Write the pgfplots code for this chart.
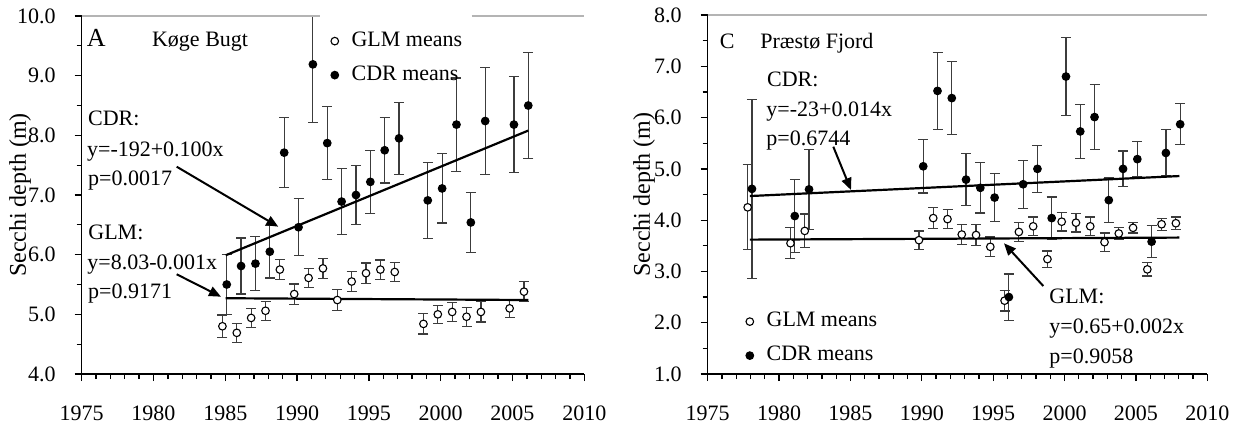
\documentclass[border=0pt]{standalone}
\usepackage{pgfplots}
\pgfplotsset{compat=1.18}
\usepackage{pgfplotstable}
\usepackage{fontspec}
\setmainfont{Liberation Serif}
\usetikzlibrary{arrows.meta}
\definecolor{errgray}{HTML}{3C3C3C}
\definecolor{topgray}{HTML}{B4B4B4}

\pgfplotstableread{
x y e
1984.8 4.80 0.19
1985.8 4.69 0.16
1986.8 4.94 0.16
1987.8 5.06 0.16
1988.8 5.75 0.17
1989.8 5.34 0.17
1990.8 5.61 0.16
1991.8 5.77 0.17
1992.8 5.24 0.17
1993.8 5.55 0.17
1994.8 5.69 0.17
1995.8 5.75 0.16
1996.8 5.71 0.16
1998.8 4.84 0.17
1999.8 5.00 0.15
2000.8 5.04 0.16
2001.8 4.96 0.16
2002.8 5.04 0.17
2004.8 5.10 0.15
2005.8 5.38 0.17
}\kogeGLM

\pgfplotstableread{
x y e
1985.1 5.50 0.50
1986.1 5.81 0.47
1987.1 5.85 0.45
1988.1 6.05 0.44
1989.1 7.71 0.59
1990.1 6.46 0.48
1991.1 9.19 0.98
1992.1 7.87 0.61
1993.1 6.89 0.55
1994.1 7.00 0.49
1995.1 7.22 0.53
1996.1 7.75 0.55
1997.1 7.95 0.60
1999.1 6.91 0.64
2000.1 7.11 0.58
2001.1 8.18 0.78
2002.1 6.54 0.50
2003.1 8.24 0.90
2005.1 8.18 0.80
2006.1 8.50 0.89
}\kogeCDR

\pgfplotstableread{
x y e
1977.8 4.25 0.83
1980.8 3.55 0.30
1981.8 3.79 0.33
1989.8 3.61 0.18
1990.8 4.04 0.21
1991.8 4.02 0.19
1992.8 3.72 0.20
1993.8 3.71 0.20
1994.8 3.48 0.19
1995.8 2.43 0.20
1996.8 3.77 0.18
1997.8 3.88 0.18
1998.8 3.24 0.16
1999.8 3.97 0.18
2000.8 3.95 0.18
2001.8 3.88 0.18
2002.8 3.57 0.18
2003.8 3.74 0.12
2004.8 3.85 0.10
2005.8 3.04 0.13
2006.8 3.92 0.12
2007.8 3.94 0.12
}\praestoGLM

\pgfplotstableread{
x y e
1978.1 4.61 1.74
1981.1 4.08 0.71
1982.1 4.60 0.78
1990.1 5.05 0.52
1991.1 6.52 0.75
1992.1 6.38 0.71
1993.1 4.79 0.51
1994.1 4.63 0.49
1995.1 4.44 0.47
1996.1 2.50 0.45
1997.1 4.70 0.47
1998.1 5.00 0.46
1999.1 4.04 0.41
2000.1 6.80 0.76
2001.1 5.73 0.53
2002.1 6.01 0.63
2003.1 4.39 0.43
2004.1 5.00 0.35
2005.1 5.19 0.34
2006.1 3.58 0.31
2007.1 5.31 0.45
2008.1 5.87 0.40
}\praestoCDR

\pgfplotsset{
  secchi/.style={
    scale only axis,
    anchor=south west,
    axis x line=bottom, axis y line=left,
    axis line style={-, line width=0.65pt, black},
    tick align=outside,
    tick style={black, line width=0.65pt},
    major tick length=3.5pt, minor tick length=2.5pt,
    xmin=1975, xmax=2010,
    xtick={1975,1980,...,2010},
    minor x tick num=4,
    minor y tick num=1,
    tick label style={font=\fontsize{11}{13}\selectfont},
    xticklabel style={/pgf/number format/1000 sep={}, /tikz/yshift=-9pt},
    yticklabel style={/pgf/number format/fixed, /pgf/number format/fixed zerofill,
      /pgf/number format/precision=1},
    yticklabel shift=6pt,
    /pgf/number format/assume math mode=true,
    ylabel={Secchi depth (m)},
    ylabel style={font=\fontsize{12}{14}\selectfont, anchor=center},
    legend style={draw=none, fill=none, inner sep=0pt, outer sep=0pt,
      anchor=north west, row sep=8pt,
      nodes={inner sep=0pt, text height=7pt, text depth=2pt, font=\fontsize{11}{13}\selectfont}},
    legend cell align=left,
    legend image code/.code={\draw[##1] plot coordinates {(0pt,0pt)}; \path (8.2pt,0pt);},
  },
  glm/.style={only marks, mark=*, mark size=1.9pt,
    mark options={fill=white, draw=black, line width=0.55pt}},
  cdr/.style={only marks, mark=*, mark size=1.9pt,
    mark options={fill=black, draw=black, line width=0.55pt}},
  ebar/.style={error bars/.cd, y dir=both, y explicit,
    error bar style={errgray, line width=0.6pt},
    error mark options={errgray, line width=0.6pt, mark size=2.5pt, rotate=90}},
  regline/.style={black, line width=1.1pt, no marks, forget plot},
}

\begin{document}
\begin{tikzpicture}
\useasboundingbox (0,0) rectangle (619.5pt,-212pt);

% ---------------- Panel A ----------------
\begin{axis}[secchi,
  at={(40.85pt,-187pt)}, width=251.3pt, height=179pt,
  ymin=4, ymax=10, ytick={4,5,...,10},
  ylabel style={at={(axis description cs:-0.1228,0.5)}},
  legend style={at={(axis description cs:0.496,0.955)}},
]
\addplot[glm, ebar] table[x=x, y=y, y error=e] {\kogeGLM};
\addlegendentry{GLM means}
\addplot[cdr, ebar] table[x=x, y=y, y error=e] {\kogeCDR};
\addlegendentry{CDR means}
\addplot[regline] coordinates {(1985.03,5.27) (2006.1,5.24)};
\addplot[regline] coordinates {(1985.03,5.99) (2006.1,8.08)};
\end{axis}

% ---------------- Panel C ----------------
\begin{axis}[secchi,
  at={(353.85pt,-187pt)}, width=249.8pt, height=179.5pt,
  ymin=1, ymax=8, ytick={1,2,...,8},
  ylabel style={at={(axis description cs:-0.1275,0.5)}},
  legend style={at={(axis description cs:0.0767,0.171)}},
]
\addplot[glm, ebar] table[x=x, y=y, y error=e] {\praestoGLM};
\addlegendentry{GLM means}
\addplot[cdr, ebar] table[x=x, y=y, y error=e] {\praestoCDR};
\addlegendentry{CDR means}
\addplot[regline] coordinates {(1977.96,3.62) (2008.05,3.66)};
\addplot[regline] coordinates {(1977.96,4.47) (2008.05,4.86)};
\end{axis}

% ---------------- annotations (pixel coordinates) ----------------
\begin{scope}[x=0.5pt, y=-0.5pt]
  % top gray frame lines
  \draw[topgray, line width=0.65pt] (81.7,16) -- (320,16);
  \draw[topgray, line width=0.65pt] (471.7,16) -- (584.3,16);
  \draw[topgray, line width=0.65pt] (707.7,15) -- (1207.3,15);

  \tikzset{ann/.style={anchor=base west, inner sep=0pt, font=\fontsize{11}{13}\selectfont}}
  % Panel A texts
  \node[ann, font=\fontsize{13}{15}\selectfont] at (86.5,46) {A};
  \node[ann] at (151.7,46) {Køge Bugt};
  \node[ann] at (87.7,125) {CDR:};
  \node[ann] at (86.7,156) {y=-192+0.100x};
  \node[ann] at (87.7,185) {p=0.0017};
  \node[ann] at (88,239.3) {GLM:};
  \node[ann] at (87,269.3) {y=8.03-0.001x};
  \node[ann] at (87.7,298.3) {p=0.9171};
  \draw[line width=1pt, -{Triangle[length=6pt,width=5pt]}] (176.7,166.7) -- (278.3,226.7);
  \draw[line width=1pt, -{Triangle[length=6pt,width=5pt]}] (176.7,274.3) -- (221,296.7);

  % Panel C texts
  \node[ann] at (719.5,48.3) {C};
  \node[ann] at (760,48.3) {Præstø Fjord};
  \node[ann] at (766.7,86) {CDR:};
  \node[ann] at (766,116.7) {y=-23+0.014x};
  \node[ann] at (766,145.7) {p=0.6744};
  \node[ann] at (1049,303.3) {GLM:};
  \node[ann] at (1049,333.3) {y=0.65+0.002x};
  \node[ann] at (1049,363.3) {p=0.9058};
  \draw[line width=1pt, -{Triangle[length=6pt,width=5pt]}] (833.3,146.7) -- (851,190);
  \draw[line width=1pt, -{Triangle[length=6pt,width=5pt]}] (1043.3,286) -- (1004,243.3);
\end{scope}
\end{tikzpicture}
\end{document}
